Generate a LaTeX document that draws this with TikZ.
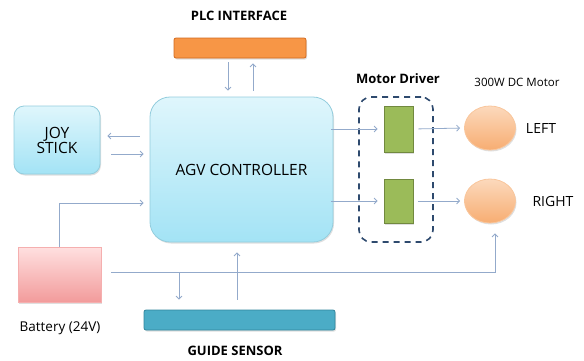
\documentclass[tikz,border=0pt]{standalone}
\usepackage{fontspec}
\setmainfont{Open Sans}
\usepackage{tikz}
\usetikzlibrary{arrows.meta,positioning,shapes.geometric,calc,shadows}
\usepackage{xcolor}
\definecolor{linha}{HTML}{93AACB}
\definecolor{plcfill}{HTML}{F79646}
\definecolor{plcdraw}{HTML}{D2691E}
\definecolor{ctrltop}{HTML}{DFF6FC}
\definecolor{ctrlbot}{HTML}{A3E3F5}
\definecolor{ctrldraw}{HTML}{93CDDD}
\definecolor{drvfill}{HTML}{9BBB59}
\definecolor{drvdraw}{HTML}{71893F}
\definecolor{mottop}{HTML}{FCD9BC}
\definecolor{motbot}{HTML}{F7AD72}
\definecolor{battop}{HTML}{FFE0E0}
\definecolor{batbot}{HTML}{F29B9B}
\definecolor{guidefill}{HTML}{4BACC6}
\definecolor{guidedraw}{HTML}{31859C}
\definecolor{tracejado}{HTML}{2E4A6E}

\tikzset{
  seta/.style={-{Straight Barb[length=3pt,width=6pt]}, linha, line width=0.8pt},
  caixa/.style={draw, line width=0.8pt, inner sep=0pt, font=\fontsize{15.5}{18}\selectfont, align=center},
  sombra/.style={drop shadow={opacity=0.25, shadow xshift=1pt, shadow yshift=-1.5pt}},
  rotulo/.style={font=\bfseries\fontsize{13}{15}\selectfont},
}

\begin{document}
\begin{tikzpicture}[x=1pt, y=-1pt]
        \useasboundingbox (0,0) rectangle (584,360);
        % Blocos principais
        \node[caixa, sombra, rounded corners=20pt, top color=ctrltop, bottom color=ctrlbot, draw=ctrldraw,
              minimum width=183pt, minimum height=145pt] (ctrl) at (241.5,169.5) {AGV CONTROLLER};
        \node[caixa, sombra, rounded corners=10pt, top color=ctrltop, bottom color=ctrlbot, draw=ctrldraw,
              minimum width=86pt, minimum height=68pt] (joy) at (57,140) {JOY\\[-3pt]STICK};
        \node[caixa, sombra, rounded corners=2pt, fill=plcfill, draw=plcdraw,
              minimum width=132pt, minimum height=20pt] (plc) at (240,48) {};
        \node[caixa, sombra, rounded corners=2pt, fill=guidefill, draw=guidedraw,
              minimum width=191pt, minimum height=20pt] (guide) at (239.5,320) {};
        \node[caixa, sombra, top color=battop, bottom color=batbot, draw=batbot!80!white,
              minimum width=83pt, minimum height=55pt] (bat) at (59.5,274.5) {};
        % Driver dos motores
        \node[draw=tracejado, dashed, line width=1.6pt, rounded corners=12pt, dash pattern=on 6pt off 5pt,
              minimum width=74pt, minimum height=145pt] (drvbox) at (396,169.5) {};
        \node[caixa, sombra, fill=drvfill, draw=drvdraw, minimum width=29pt, minimum height=46pt] (drvL) at (398.5,129) {};
        \node[caixa, sombra, fill=drvfill, draw=drvdraw, minimum width=29pt, minimum height=44pt] (drvR) at (398.5,201) {};
        % Motores
        \node[caixa, sombra, ellipse, top color=mottop, bottom color=motbot, draw=motbot!70!white,
              minimum width=51pt, minimum height=44pt] (motL) at (490,128) {};
        \node[caixa, sombra, ellipse, top color=mottop, bottom color=motbot, draw=motbot!70!white,
              minimum width=51pt, minimum height=44pt] (motR) at (490,201) {};
        % Rótulos
        \node[rotulo] (plclbl) at (239,16) {PLC INTERFACE};
        \node[rotulo] (guidelbl) at (235,351) {GUIDE SENSOR};
        \node[rotulo] (drvlbl) at (398,79) {Motor Driver};
        \node[font=\fontsize{11.5}{13}\selectfont] (motlbl) at (517,82) {300W DC Motor};
        \node[font=\fontsize{14}{16}\selectfont] (leftlbl) at (541,128) {LEFT};
        \node[font=\fontsize{14}{16}\selectfont] (rightlbl) at (553,201) {RIGHT};
        \node[font=\fontsize{13.5}{15}\selectfont] (batlbl) at (60,328) {Battery (24V)};
        % Ligações PLC <-> controlador
        \draw[seta, shorten <=4pt, shorten >=6pt] ([xshift=-12pt]plc.south) -- ([xshift=-12pt]plc.south |- ctrl.north);
        \draw[seta, shorten <=6pt, shorten >=5pt] ([xshift=13pt]plc.south |- ctrl.north) -- ([xshift=13pt]plc.south);
        % Joystick <-> controlador
        \draw[seta, shorten <=10pt, shorten >=7pt] ([yshift=4pt]ctrl.west |- joy.east) -- ([yshift=4pt]joy.east);
        \draw[seta, shorten <=11pt, shorten >=6pt] ([yshift=-14pt]joy.east) -- ([yshift=-14pt]ctrl.west |- joy.east);
        % Controlador -> drivers -> motores
        \draw[seta, shorten <=-2pt, shorten >=6pt] (ctrl.east |- drvL.west) -- (drvL.west);
        \draw[seta, shorten <=-2pt, shorten >=6pt] (ctrl.east |- drvR.west) -- (drvR.west);
        \draw[seta, shorten <=5pt, shorten >=4pt] (drvL.east) -- (motL.west);
        \draw[seta, shorten <=5pt, shorten >=4pt] (drvR.east) -- (motR.west);
        % Alimentação da bateria
        \coordinate (busL) at (111,272);
        \coordinate (busR) at (495,272);
        \coordinate (tap) at (179,272);
        \draw[seta, shorten >=6pt] (bat.north) |- (ctrl.west |- 0,203);
        \draw[seta, shorten >=10pt] (busL) -- (busR) -- (busR |- motR.south);
        \draw[seta, shorten >=10pt] (tap) -- (tap |- guide.north);
        % Sensor de guia -> controlador
        \draw[seta, shorten <=10pt, shorten >=10pt] ([xshift=-2.5pt]guide.north) -- ([xshift=-2.5pt]guide.north |- ctrl.south);
    \end{tikzpicture}
\end{document}
